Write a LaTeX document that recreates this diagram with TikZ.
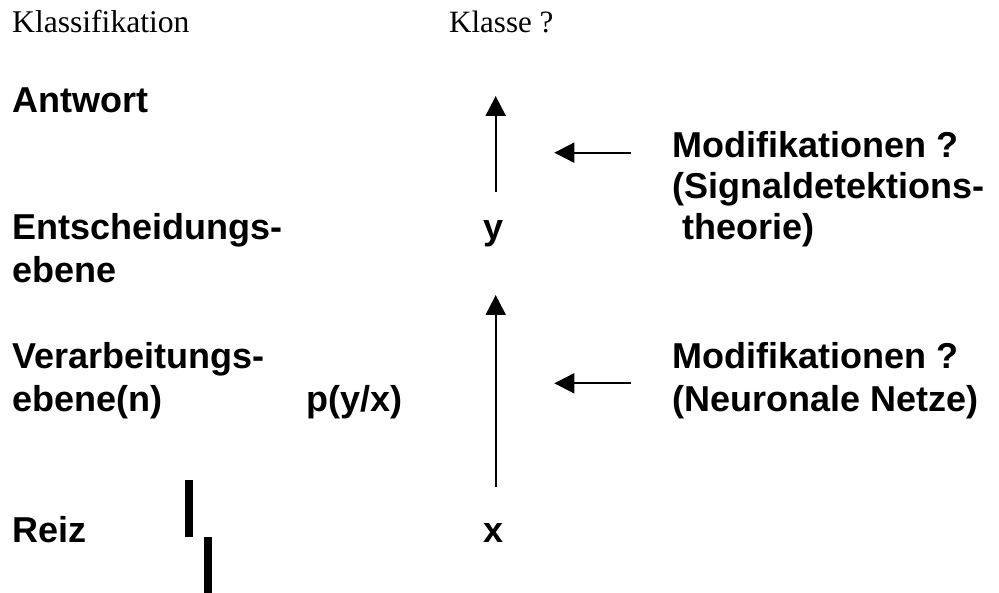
\documentclass[tikz,border=0pt]{standalone}
\usepackage{fontspec}
\setmainfont{Liberation Serif}
\setsansfont{Liberation Sans}
\usetikzlibrary{arrows.meta}
\begin{document}
\begin{tikzpicture}[x=1pt,y=-1pt,
  lab/.style={font=\sffamily\bfseries\fontsize{36}{43}\selectfont, inner sep=0pt, anchor=base west, align=left},
  ttl/.style={font=\rmfamily\fontsize{31}{36}\selectfont, inner sep=0pt, anchor=base west},
  arr/.style={line width=2pt, -{Triangle[width=20pt,length=20pt]}},
  barfill/.style={fill=black}]
\useasboundingbox (0,0) rectangle (999,593);
% titles (multi-line nodes are anchored at the baseline of their last line)
\node[ttl, font=\rmfamily\fontsize{31.6}{36}\selectfont] (klass) at (12,33) {Klassifikation};
\node[ttl] (klasse) at (449,33) {Klasse ?};
% left labels
\node[lab] (antwort) at (12,113) {Antwort};
\node[lab] (entsch) at (12,283) {Entscheidungs-\\ebene};
\node[lab] (verarb) at (12,412) {Verarbeitungs-\\ebene(n)};
\node[lab] (reiz) at (12,542) {Reiz};
% middle
\node[lab] (py) at (306,412) {p(y/x)};
\node[lab] (y) at (483,240) {y};
\node[lab] (x) at (483,542) {x};
% right
\node[lab, font=\sffamily\bfseries\fontsize{36}{41}\selectfont] (mod1) at (672,240) {Modifikationen ?\\(Signaldetektions-\\\hspace*{10pt}theorie)};
\node[lab] (mod2) at (672,412) {Modifikationen ?\\(Neuronale Netze)};
% arrow coordinates
\coordinate (a1s) at (495.7,191.7);
\coordinate (a1e) at (495.7,96);
\coordinate (a2s) at (495.7,486.7);
\coordinate (a2e) at (495.7,295);
\coordinate (h1s) at (630.7,152.7);
\coordinate (h1e) at (554.3,152.7);
\coordinate (h2s) at (630.7,383.3);
\coordinate (h2e) at (554.3,383.3);
\draw[arr] (a1s) -- (a1e);
\draw[arr] (a2s) -- (a2e);
\draw[arr] (h1s) -- (h1e);
\draw[arr] (h2s) -- (h2e);
% stimulus bars
\fill[barfill] (185,480) rectangle (192.7,536.7);
\fill[barfill] (204,537) rectangle (212,593);
\end{tikzpicture}
\end{document}
